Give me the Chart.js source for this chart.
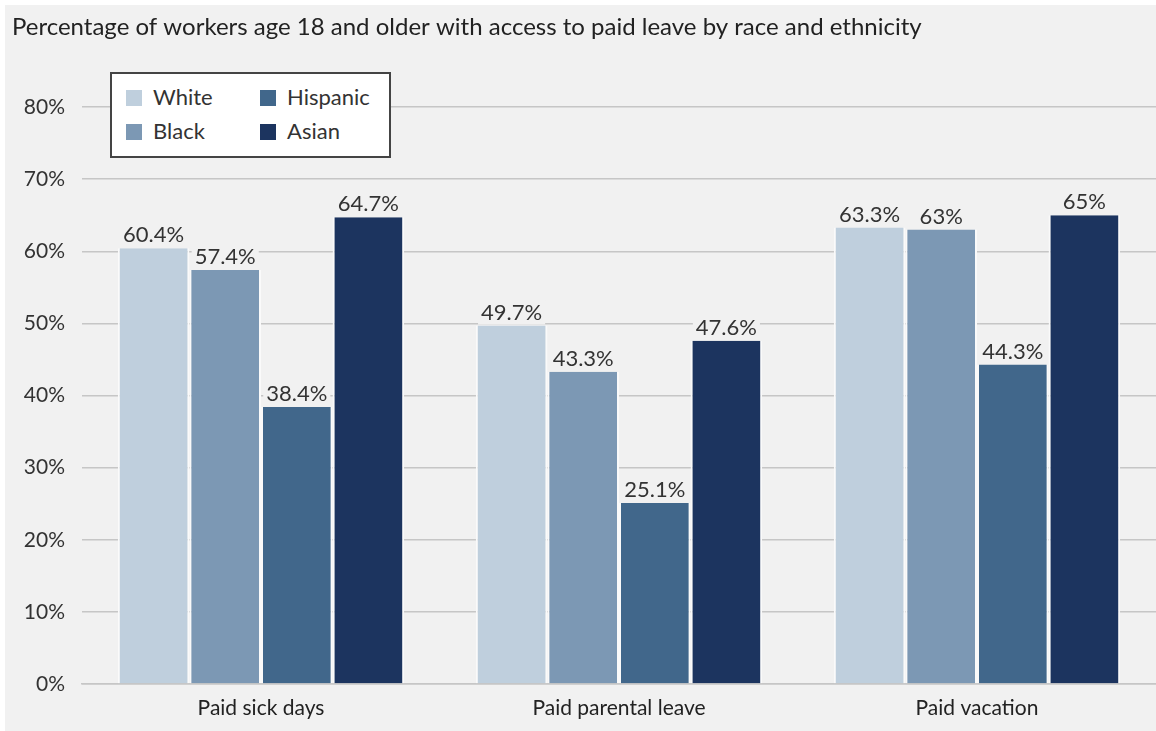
<!DOCTYPE html>
<html>
<head>
<meta charset="utf-8">
<script src="https://cdn.jsdelivr.net/npm/chart.js@4"></script>
<style>
  body { margin: 0; background: #fff; font-family: Lato, sans-serif; }
  #wrap { position: absolute; left: 5px; top: 5px; width: 1151px; height: 726px; background: #f1f1f1; }
  #legend { position: absolute; left: 105px; top: 67px; width: 277px; height: 82px; background: #fff;
            border: 2px solid #444; }
  .item { position: absolute; font-size: 22px; color: #333; line-height: 26px; }
  .item span { display: inline-block; width: 16px; height: 16px; margin-right: 11px; vertical-align: -1px; }
</style>
</head>
<body>
<div id="wrap">
  <canvas id="chart" width="1151" height="726"></canvas>
  <div id="legend"></div>
</div>
<script>
const categories = ['Paid sick days', 'Paid parental leave', 'Paid vacation'];
const groups = ['White', 'Black', 'Hispanic', 'Asian'];
const white = [60.4, 49.7, 63.3];
const black = [57.4, 43.3, 63];
const hispanic = [38.4, 25.1, 44.3];
const asian = [64.7, 47.6, 65];
const yTicks = [0, 10, 20, 30, 40, 50, 60, 70, 80];
const colors = ['#bfcfdd', '#7c98b4', '#41678b', '#1c345f'];

const series = [white, black, hispanic, asian];

// legend box
const legendEl = document.getElementById('legend');
groups.forEach((g, i) => {
  const d = document.createElement('div');
  d.className = 'item';
  d.style.left = (i < 2 ? 14 : 148) + 'px';
  d.style.top = (i % 2 === 0 ? 10 : 44) + 'px';
  d.innerHTML = `<span style="background:${colors[i]}"></span>${g}`;
  legendEl.appendChild(d);
});

const valueLabels = {
  id: 'valueLabels',
  afterDatasetsDraw(chart) {
    const ctx = chart.ctx;
    ctx.save();
    ctx.font = '22px Lato';
    ctx.textAlign = 'center';
    ctx.textBaseline = 'middle';
    chart.data.datasets.forEach((ds, i) => {
      chart.getDatasetMeta(i).data.forEach((bar, j) => {
        const txt = ds.data[j] + '%';
        const w = ctx.measureText(txt).width;
        const y = bar.y - 13;
        ctx.fillStyle = '#f1f1f1';
        ctx.fillRect(bar.x - w / 2 - 3, y - 12, w + 6, 24);
        ctx.fillStyle = '#333';
        ctx.fillText(txt, bar.x, y);
      });
    });
    ctx.restore();
  }
};

new Chart(document.getElementById('chart'), {
  type: 'bar',
  data: {
    labels: categories,
    datasets: groups.map((g, i) => ({
      label: g,
      data: series[i],
      backgroundColor: colors[i],
      borderColor: '#fafafa',
      borderWidth: { left: 2, right: 2, top: 0, bottom: 0 },
      borderSkipped: false,
      barPercentage: 1,
      categoryPercentage: 0.8
    }))
  },
  options: {
    responsive: false,
    animation: false,
    layout: { padding: { left: 7, right: 0, top: 0, bottom: 10 } },
    plugins: {
      legend: { display: false },
      tooltip: { enabled: false },
      title: {
        display: true,
        text: 'Percentage of workers age 18 and older with access to paid leave by race and ethnicity',
        align: 'start',
        color: '#222',
        font: { family: 'Lato', size: 24, weight: 'normal' },
        padding: { top: 8, bottom: 65.2 }
      }
    },
    scales: {
      x: {
        afterFit: s => { s.height = 37; },
        grid: { display: false, drawTicks: false },
        border: { color: '#c6c6c6', width: 1.5 },
        ticks: { color: '#222', font: { family: 'Lato', size: 21 }, padding: 12 }
      },
      y: {
        min: 0,
        max: 80,
        afterBuildTicks: s => { s.ticks = yTicks.map(v => ({ value: v })); },
        afterFit: s => { s.width = 70; },
        grid: { color: '#c6c6c6', lineWidth: 1.5, drawTicks: false },
        border: { display: false },
        ticks: { color: '#333', font: { family: 'Lato', size: 21 }, padding: 17,
                 callback: v => v + '%' }
      }
    }
  },
  plugins: [valueLabels]
});
</script>
</body>
</html>
